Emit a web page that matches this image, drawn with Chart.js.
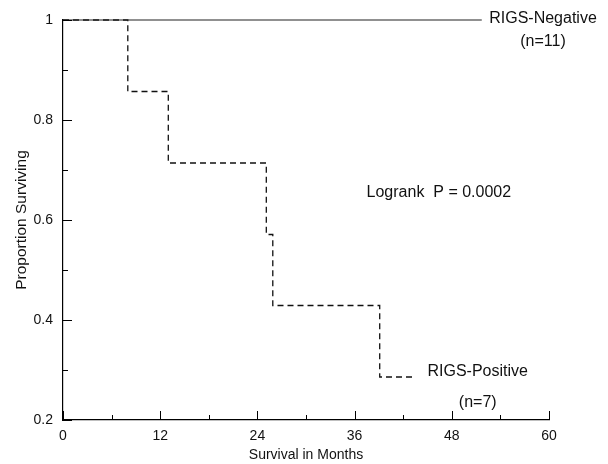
<!DOCTYPE html>
<html>
<head>
<meta charset="utf-8">
<script src="https://cdn.jsdelivr.net/npm/chart.js@4"></script>
<style>
  html, body { margin: 0; padding: 0; background: #fff; }
  #wrap { width: 608px; height: 464px; }
</style>
</head>
<body>
<div id="wrap"><canvas id="km_chart"></canvas></div>
<script>
// survival data
const negTimes = [0, 51.7];
const negSurv = [1, 1];
const posTimes = [0, 8, 13, 25.1, 25.9, 39.1, 43.5];
const posSurv = [1, 0.857, 0.714, 0.571, 0.429, 0.286, 0.286];

const xTickLabels = ['0', '12', '24', '36', '48', '60'];
const yTickLabels = ['0.2', '0.4', '0.6', '0.8', '1'];

// text placed in data units
const notes = [
    { text: 'RIGS-Negative', x: 59.26, y: 1.002 },
    { text: '(n=11)', x: 59.26, y: 0.956 },
    { text: 'Logrank  P = 0.0002', x: 46.4, y: 0.654 },
    { text: 'RIGS-Positive', x: 51.2, y: 0.296 },
    { text: '(n=7)', x: 51.2, y: 0.234 }
];

function toPoints(xs, ys) {
    return xs.map(function(x, i) { return { x: x, y: ys[i] }; });
}

// inward ticks, major + minor half way between
const inwardTicks = {
    id: 'inwardTicks',
    afterDraw(chart) {
        const ctx = chart.ctx;
        const xs = chart.scales.x, ys = chart.scales.y;
        const area = chart.chartArea;
        ctx.save();
        ctx.strokeStyle = '#000';
        ctx.lineWidth = 1;
        ctx.beginPath();
        for (let v = 0; v <= 60; v += 6) {
            let px = Math.round(xs.getPixelForValue(v)) + 0.5;
            let len = (v % 12 == 0) ? 9 : 5;
            ctx.moveTo(px, area.bottom);
            ctx.lineTo(px, area.bottom - len);
        }
        for (let i = 2; i <= 10; i++) {
            let py = Math.round(ys.getPixelForValue(i / 10)) + 0.5;
            let len = (i % 2 == 0) ? 9 : 5;
            ctx.moveTo(area.left, py);
            ctx.lineTo(area.left + len, py);
        }
        ctx.stroke();

        ctx.fillStyle = '#111';
        ctx.font = '16px "Liberation Sans", Arial, sans-serif';
        ctx.textAlign = 'center';
        ctx.textBaseline = 'middle';
        notes.forEach(function(n) {
            ctx.fillText(n.text, xs.getPixelForValue(n.x), ys.getPixelForValue(n.y));
        });
        ctx.restore();
    }
};

const font = { family: '"Liberation Sans", Arial, sans-serif', size: 14 };

new Chart(document.getElementById('km_chart'), {
    type: 'line',
    data: {
        datasets: [{
            label: 'RIGS-Negative',
            data: toPoints(negTimes, negSurv),
            borderColor: '#222',
            borderWidth: 1.2,
            pointRadius: 0,
            clip: 4,
            stepped: 'before'
        }, {
            label: 'RIGS-Positive',
            data: toPoints(posTimes, posSurv),
            borderColor: '#111',
            borderWidth: 1.3,
            borderDash: [6, 4],
            pointRadius: 0,
            clip: 4,
            stepped: 'before'
        }]
    },
    options: {
        responsive: true,
        maintainAspectRatio: false,
        animation: false,
        layout: { padding: { top: 20, right: 59, left: 0, bottom: 0 } },
        plugins: {
            legend: { display: false },
            tooltip: { enabled: false }
        },
        scales: {
            x: {
                type: 'linear',
                min: 0,
                max: 60,
                afterFit: function(scale) { scale.height = 44; },
                grid: { display: false, drawTicks: false },
                border: { display: true, color: '#000', width: 1.2 },
                ticks: {
                    stepSize: 12,
                    padding: 8,
                    color: '#111',
                    font: font,
                    maxRotation: 0,
                    callback: function(value, index) { return xTickLabels[index]; }
                },
                title: {
                    display: true,
                    text: 'Survival in Months',
                    color: '#111',
                    font: { family: font.family, size: 14 },
                    padding: { top: 0, bottom: 0 }
                }
            },
            y: {
                min: 0.2,
                max: 1,
                afterFit: function(scale) { scale.width = 63; },
                grid: { display: false, drawTicks: false },
                border: { display: true, color: '#000', width: 1.2 },
                ticks: {
                    stepSize: 0.2,
                    padding: 10,
                    color: '#111',
                    font: font,
                    callback: function(value, index) { return yTickLabels[index]; }
                },
                title: {
                    display: true,
                    text: 'Proportion Surviving',
                    color: '#111',
                    font: { family: font.family, size: 15.5 },
                    padding: { top: 12, bottom: 0 }
                }
            }
        }
    },
    plugins: [inwardTicks]
});
</script>
</body>
</html>
